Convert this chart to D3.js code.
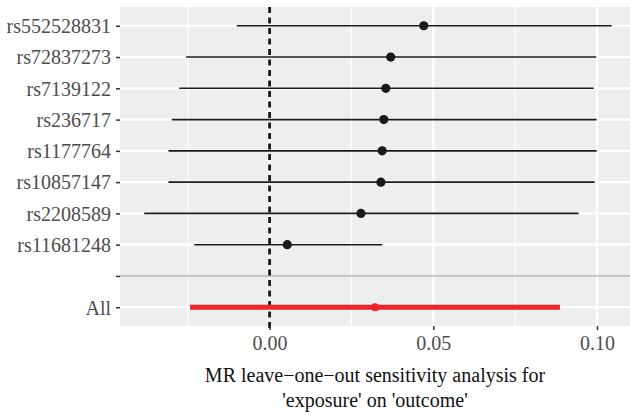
<!DOCTYPE html>
<html>
<head>
<meta charset="utf-8">
<script src="https://cdn.jsdelivr.net/npm/d3@7"></script>
<style>
  body { margin: 0; background: #fff; }
  svg text { font-family: "Liberation Serif", "Times New Roman", serif; }
</style>
</head>
<body>
<div id="chart"></div>
<script>
// leave-one-out results
const snps = ["rs552528831", "rs72837273", "rs7139122", "rs236717", "rs1177764",
  "rs10857147", "rs2208589", "rs11681248", "", "All"];
const b  = [0.0471, 0.0370, 0.0355, 0.0349, 0.0344, 0.0340, 0.0279, 0.0054, null, 0.0322];
const lo = [-0.0100, -0.0255, -0.0276, -0.0299, -0.0309, -0.0309, -0.0383, -0.0230, null, -0.0243];
const up = [0.1045, 0.0998, 0.0990, 0.0999, 0.0999, 0.0993, 0.0944, 0.0344, null, 0.0887];
const xTicks = [0, 0.05, 0.10];
const xMinor = [-0.025, 0.025, 0.075];
const xTitle = ["MR leave\u2212one\u2212out sensitivity analysis for", "'exposure' on 'outcome'"];

const svgWidth = 630;
const svgHeight = 415;
const margin = { top: 7, right: 0, bottom: 89, left: 120 };
const width = svgWidth - margin.left - margin.right;
const height = svgHeight - margin.top - margin.bottom;

const rows = snps.map((s, i) => ({ snp: s, b: b[i], lo: lo[i], up: up[i], tot: s === "All" }));

const svg = d3.select("#chart").append("svg")
  .attr("width", svgWidth)
  .attr("height", svgHeight);

const g = svg.append("g")
  .attr("transform", `translate(${margin.left}, ${margin.top})`);

const x = d3.scaleLinear().domain([-0.0457, 0.1101]).range([0, width]);
const y = d3.scalePoint().domain(snps).range([0, height]).padding(0.6);

// panel
g.append("rect").attr("width", width).attr("height", height).attr("fill", "#EDEEEE");

g.selectAll(".minor").data(xMinor).enter().append("line")
  .attr("x1", d => x(d)).attr("x2", d => x(d))
  .attr("y1", 0).attr("y2", height)
  .attr("stroke", "#fff").attr("stroke-width", 1.1);

g.selectAll(".major").data(xTicks).enter().append("line")
  .attr("x1", d => x(d)).attr("x2", d => x(d))
  .attr("y1", 0).attr("y2", height)
  .attr("stroke", "#fff").attr("stroke-width", 2.2);

g.selectAll(".hgrid").data(snps).enter().append("line")
  .attr("x1", 0).attr("x2", width)
  .attr("y1", d => y(d)).attr("y2", d => y(d))
  .attr("stroke", "#fff").attr("stroke-width", 2.2);

// separator at the empty row
g.append("line")
  .attr("x1", 0).attr("x2", width)
  .attr("y1", y("")).attr("y2", y(""))
  .attr("stroke", "#C6C6C6").attr("stroke-width", 2.2);

// null line at 0
g.append("line")
  .attr("x1", x(0)).attr("x2", x(0))
  .attr("y1", 0).attr("y2", height + 4)
  .attr("stroke", "#1a1a1a").attr("stroke-width", 2.8)
  .attr("stroke-dasharray", "6,4.5");

const est = rows.filter(d => d.b !== null);

g.selectAll(".ci").data(est).enter().append("line")
  .attr("x1", d => x(d.lo)).attr("x2", d => x(d.up))
  .attr("y1", d => y(d.snp)).attr("y2", d => y(d.snp))
  .attr("stroke", d => d.tot ? "#EE232B" : "#1a1a1a")
  .attr("stroke-width", d => d.tot ? 5 : 1.6);

g.selectAll(".pt").data(est).enter().append("circle")
  .attr("cx", d => x(d.b)).attr("cy", d => y(d.snp))
  .attr("r", d => d.tot ? 4 : 4.6)
  .attr("fill", d => d.tot ? "#EE232B" : "#1a1a1a");

// axes
const xAxis = g.append("g")
  .attr("transform", `translate(0, ${height})`)
  .call(d3.axisBottom(x).tickValues(xTicks).tickFormat(d3.format(".2f")).tickSize(4).tickPadding(6));
const yAxis = g.append("g")
  .call(d3.axisLeft(y).tickSize(4).tickPadding(5));

[xAxis, yAxis].forEach(a => {
  a.select(".domain").remove();
  a.selectAll(".tick line").attr("stroke", "#333").attr("stroke-width", 1.5);
  a.selectAll(".tick text").attr("fill", "#4D4D4D").attr("font-size", 20);
});
yAxis.selectAll(".tick text").attr("dy", "0.34em");
xAxis.selectAll(".tick text").attr("dy", "0.71em");

// axis title
svg.append("text")
  .attr("x", margin.left + width / 2)
  .attr("y", 382)
  .attr("text-anchor", "middle")
  .attr("font-size", 20)
  .attr("fill", "#111")
  .selectAll("tspan").data(xTitle).enter().append("tspan")
  .attr("x", margin.left + width / 2)
  .attr("dy", (d, i) => i === 0 ? 0 : 25)
  .text(d => d);
</script>
</body>
</html>
